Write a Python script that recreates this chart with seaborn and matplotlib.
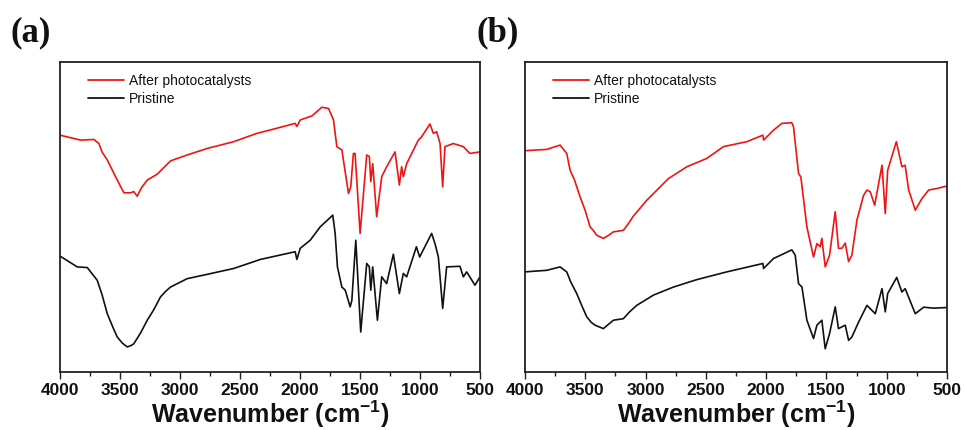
import numpy as np
import pandas as pd
import matplotlib
matplotlib.use("Agg")
import matplotlib.pyplot as plt
import seaborn as sns
from matplotlib.ticker import MultipleLocator

# ---------------- data (arbitrary transmittance units) ----------------
a_after_wn = [4000, 3828, 3717, 3676, 3650, 3606, 3537, 3500, 3467, 3412, 3385, 3357, 3320, 3273,
              3230, 3190, 3079, 2941,
              2774, 2552, 2358, 2275, 2040, 2026, 1998, 1901, 1818, 1762, 1721, 1693, 1651, 1596,
              1577, 1555, 1541, 1499, 1444, 1422, 1410, 1394, 1361, 1319, 1278, 1208, 1172, 1153,
              1139, 1111, 1014, 986, 917, 889, 861, 833, 811, 792, 722, 639, 584, 500]
a_after_v = [76.4, 74.8, 75.0, 73.7, 71.0, 68.4, 63.0, 60.2, 57.8, 57.8, 58.2, 56.7, 59.5, 61.9,
             62.9, 63.8, 68.1, 70.0,
             72.1, 74.3, 77.0, 77.8, 80.2, 79.2, 81.3, 82.6, 85.4, 85.0, 81.3, 72.7, 71.6, 57.6,
             59.7, 70.5, 70.5, 44.7, 70.0, 69.5, 61.4, 67.2, 50.1, 63.0, 66.2, 71.0, 60.3, 66.2,
             63.0, 67.2, 74.8, 75.9, 80.0, 77.0, 77.5, 73.7, 59.7, 72.7, 73.7, 72.7, 70.5, 71.0]

a_pris_wn = [4000, 3856, 3773, 3690, 3650, 3606, 3560, 3523, 3480, 3440, 3410, 3385, 3330, 3273,
             3220, 3163, 3120, 3079, 2941, 2774, 2552,
             2331, 2040, 2026, 1998, 1915, 1832, 1727, 1707, 1688, 1651, 1623, 1582, 1568, 1535,
             1494, 1444, 1422, 1410, 1394, 1355, 1319, 1278, 1222, 1172, 1139, 1111, 1030, 1003,
             903, 875, 847, 811, 778, 667, 639, 611, 542, 500]
a_pris_v = [37.4, 33.9, 33.7, 29.6, 25.0, 18.8, 14.5, 11.3, 9.3, 8.1, 8.5, 9.1, 12.5, 16.7,
            20.0, 24.2, 26.0, 27.4, 30.1, 31.5, 33.4,
            36.3, 38.8, 36.3, 39.9, 42.5, 46.8, 50.6, 44.7, 33.9, 27.4, 26.4, 21.0, 23.1, 42.5,
            12.9, 35.0, 33.9, 26.4, 33.9, 16.7, 30.7, 28.5, 38.0, 25.3, 31.8, 30.7, 40.4, 37.1,
            44.7, 41.4, 37.1, 20.5, 33.9, 34.1, 30.7, 32.3, 28.0, 30.7]

b_after_wn = [4000, 3820, 3709, 3654, 3626, 3590, 3543, 3500, 3460, 3430, 3405, 3350, 3310, 3267,
              3184, 3140, 3101, 2990, 2810,
              2658, 2492, 2354, 2160, 2027, 2021, 1939, 1870, 1787, 1773, 1731, 1712, 1662, 1607,
              1579, 1552, 1538, 1510, 1474, 1427, 1400, 1372, 1344, 1316, 1289, 1247, 1192, 1164,
              1136, 1100, 1039, 1012, 992, 920, 874, 847, 818, 763, 707, 652, 583, 500]
b_after_v = [71.4, 71.8, 73.2, 70.5, 65.1, 62.0, 56.5, 52.0, 46.8, 45.5, 44.1, 43.1, 44.0, 45.2,
             45.7, 48.0, 50.3, 55.4, 62.4,
             66.2, 68.9, 72.7, 74.3, 76.4, 74.8, 78.0, 80.2, 80.4, 79.1, 64.0, 62.9, 46.8, 37.1,
             41.4, 40.4, 43.1, 33.9, 37.7, 51.7, 39.9, 39.9, 41.6, 35.6, 37.7, 49.0, 57.0, 58.7,
             58.1, 53.8, 66.7, 51.1, 65.1, 74.3, 66.2, 66.7, 58.7, 52.2, 56.0, 58.7, 59.2, 60.0]

b_pris_wn = [4000, 3820, 3709, 3654, 3620, 3571, 3530, 3488, 3450, 3419, 3350, 3267, 3184, 3130,
             3073, 2935, 2769, 2575,
             2326, 2027, 2021, 1939, 1787, 1759, 1731, 1703, 1662, 1607, 1579, 1538, 1510, 1474,
             1427, 1400, 1344, 1316, 1289, 1233, 1164, 1095, 1039, 1012, 992, 917, 874, 847,
             763, 694, 611, 500]
b_pris_v = [32.3, 32.8, 33.9, 32.3, 29.0, 25.3, 21.5, 17.8, 16.0, 15.1, 14.0, 16.7, 17.2, 19.5,
            21.5, 24.8, 27.4, 29.8,
            32.3, 35.0, 33.4, 36.6, 39.4, 37.7, 28.5, 27.4, 16.7, 10.8, 15.1, 16.7, 7.5, 12.4,
            21.0, 14.0, 15.1, 10.2, 11.3, 16.1, 21.5, 18.8, 26.9, 19.4, 25.3, 30.5, 25.8, 26.9,
            18.8, 20.9, 20.6, 20.8]

series_names = ["After photocatalysts", "Pristine"]
series_colors = ["#f01414", "#111111"]
panel_labels = ["(a)", "(b)"]
x_ticks = [4000, 3500, 3000, 2500, 2000, 1500, 1000, 500]

# ---------------- figure ----------------
sns.set_style("white")
plt.rcParams["font.family"] = ["Liberation Sans", "DejaVu Sans"]
plt.rcParams["mathtext.fontset"] = "custom"
plt.rcParams["mathtext.rm"] = "Liberation Sans"
plt.rcParams["mathtext.bf"] = "Liberation Sans:bold"
plt.rcParams["text.color"] = "#111111"
plt.rcParams["axes.labelcolor"] = "#111111"
plt.rcParams["xtick.color"] = "#222222"
plt.rcParams["xtick.labelcolor"] = "#111111"

W, H = 965, 430
fig = plt.figure(figsize=(W / 100, H / 100), dpi=100)

def ax_rect(l, r, t, b):
    return [l / W, 1 - b / H, (r - l) / W, (b - t) / H]

axes = [fig.add_axes(ax_rect(60, 480, 62, 372)), fig.add_axes(ax_rect(525, 947, 62, 372))]

panels = [
    (a_after_wn, a_after_v, a_pris_wn, a_pris_v),
    (b_after_wn, b_after_v, b_pris_wn, b_pris_v),
]

for ax, (w1, v1, w2, v2), lab, xl in zip(axes, panels, panel_labels, [10, 477]):
    df = pd.concat([
        pd.DataFrame({"wn": w1, "T": v1, "sample": series_names[0]}),
        pd.DataFrame({"wn": w2, "T": v2, "sample": series_names[1]}),
    ])
    sns.lineplot(data=df, x="wn", y="T", hue="sample", palette=series_colors,
                 hue_order=series_names, ax=ax, linewidth=1.2, sort=False,
                 estimator=None)
    ax.set_xlim(4000, 500)
    ax.set_ylim(0, 100)
    ax.set_xticks(x_ticks)
    ax.xaxis.set_minor_locator(MultipleLocator(250))
    ax.set_yticks([])
    ax.set_ylabel("")
    ax.set_xlabel("Wavenumber (cm$^{\\mathbf{-1}}$)", fontsize=18, fontweight="bold", labelpad=0)
    for lbl in ax.get_xticklabels():
        lbl.set_fontweight("bold")
    ax.tick_params(axis="x", which="major", direction="out", length=5, width=1,
                   labelsize=12.5, pad=3, bottom=True)
    ax.tick_params(axis="x", which="minor", direction="out", length=3, width=1,
                   bottom=True)
    for s in ax.spines.values():
        s.set_linewidth(1.3)
        s.set_color("#222222")
    leg = ax.legend(loc="upper left", frameon=False, fontsize=10,
                    handlelength=2.6, handletextpad=0.35, labelspacing=0.3,
                    borderaxespad=0, bbox_to_anchor=(22 / 420, 1 - 6 / 310))
    for line in leg.get_lines():
        line.set_linewidth(1.3)
    fig.text(xl / W, 1 - 33 / H, lab, fontsize=25, fontweight="bold",
             family=["Liberation Serif", "DejaVu Serif"], va="center", ha="left")

fig.savefig("out.png", dpi=100)
